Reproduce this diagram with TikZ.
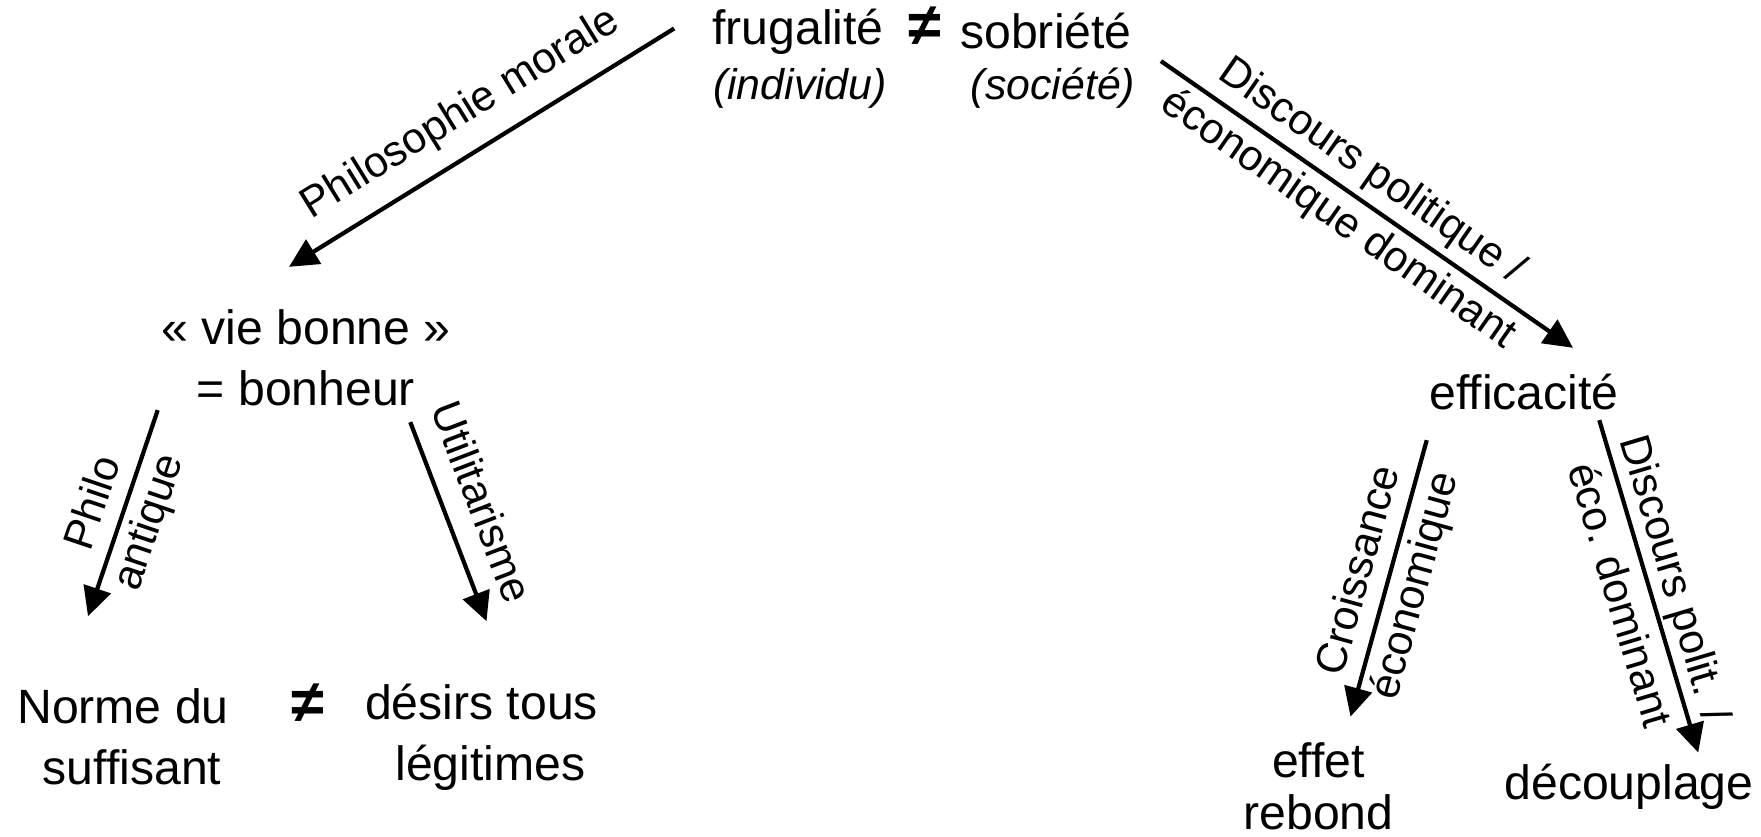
\documentclass[tikz,border=0pt]{standalone}
\usepackage{fontspec}
\setmainfont{Liberation Sans}
\usetikzlibrary{arrows.meta}

\begin{document}
\begin{tikzpicture}[
    txt/.style={inner sep=0pt, align=center, font=\fontsize{13.7}{17.5}\selectfont},
    neqs/.style={inner sep=0pt, font=\fontsize{17}{17}\selectfont\bfseries},
    sub/.style={inner sep=0pt, font=\fontsize{12.2}{14}\selectfont\itshape},
    lab/.style={inner sep=2pt, align=center, sloped, font=\fontsize{12.2}{16.5}\selectfont},
    arr/.style={line width=1.2pt, -{Triangle[length=2.9mm,width=2.8mm]}}
]
    \useasboundingbox (0,0) rectangle (17.61,8.36);

    % top line
    \node[txt] (frug) at (7.98,8.045) {frugalité};
    \node[neqs] (neqtop) at (9.25,8.10) {≠};
    \node[txt] (sobr) at (10.46,8.045) {sobriété};
    \node[sub] (indiv) at (8.00,7.48) {(individu)};
    \node[sub] (soc) at (10.53,7.48) {(société)};

    % left branch
    \node[txt] (vie) at (3.06,4.78) {« vie bonne »\\= bonheur};
    \node[txt, font=\fontsize{13.7}{17.3}\selectfont] (norme) at (1.23,0.99) {Norme du\\\hspace*{1.8mm}suffisant};
    \node[neqs] (neqbot) at (3.08,1.33) {≠};
    \node[txt, font=\fontsize{13.7}{17.3}\selectfont] (desirs) at (4.815,0.99) {désirs tous\\\hspace*{1.8mm}légitimes};

    % right branch
    \node[txt] (eff) at (15.24,4.445) {efficacité};
    \node[txt, font=\fontsize{13.7}{14.8}\selectfont] (rebond) at (13.185,0.50) {effet\\rebond};
    \node[txt] (decoup) at (16.29,0.49) {découplage};

    \draw[arr] ([xshift=-3.75mm,yshift=0.3mm]frug.west) -- ([xshift=-1.7mm,yshift=4.2mm]vie.north)
        node[lab, midway, above=3pt] {Philosophie morale};
    \draw[arr] ([xshift=2.5mm,yshift=0.6mm]soc.north east) -- ([xshift=4.9mm,yshift=2.5mm]eff.north)
        node[lab, pos=0.47] {Discours politique /\\économique dominant};

    \draw[arr] ([xshift=-0.3mm,yshift=-0.3mm]vie.south west) -- ([xshift=-3.5mm,yshift=7.2mm]norme.north)
        node[lab, midway] {Philo\\antique};
    \draw[arr] ([xshift=-4.1mm,yshift=-1.5mm]vie.south east) -- ([xshift=0.5mm,yshift=6.2mm]desirs.north)
        node[lab, pos=0.47, above=4pt] {Utilitarisme};

    \draw[arr] ([xshift=-0.2mm,yshift=-3mm]eff.south west) -- ([xshift=3.2mm,yshift=2.5mm]rebond.north)
        node[lab, midway] {Croissance\\économique};
    \draw[arr] ([xshift=-2mm,yshift=-1mm]eff.south east) -- ([xshift=-5.6mm,yshift=1.1mm]decoup.north east)
        node[lab, midway] {Discours polit. /\\éco. dominant};
\end{tikzpicture}
\end{document}
